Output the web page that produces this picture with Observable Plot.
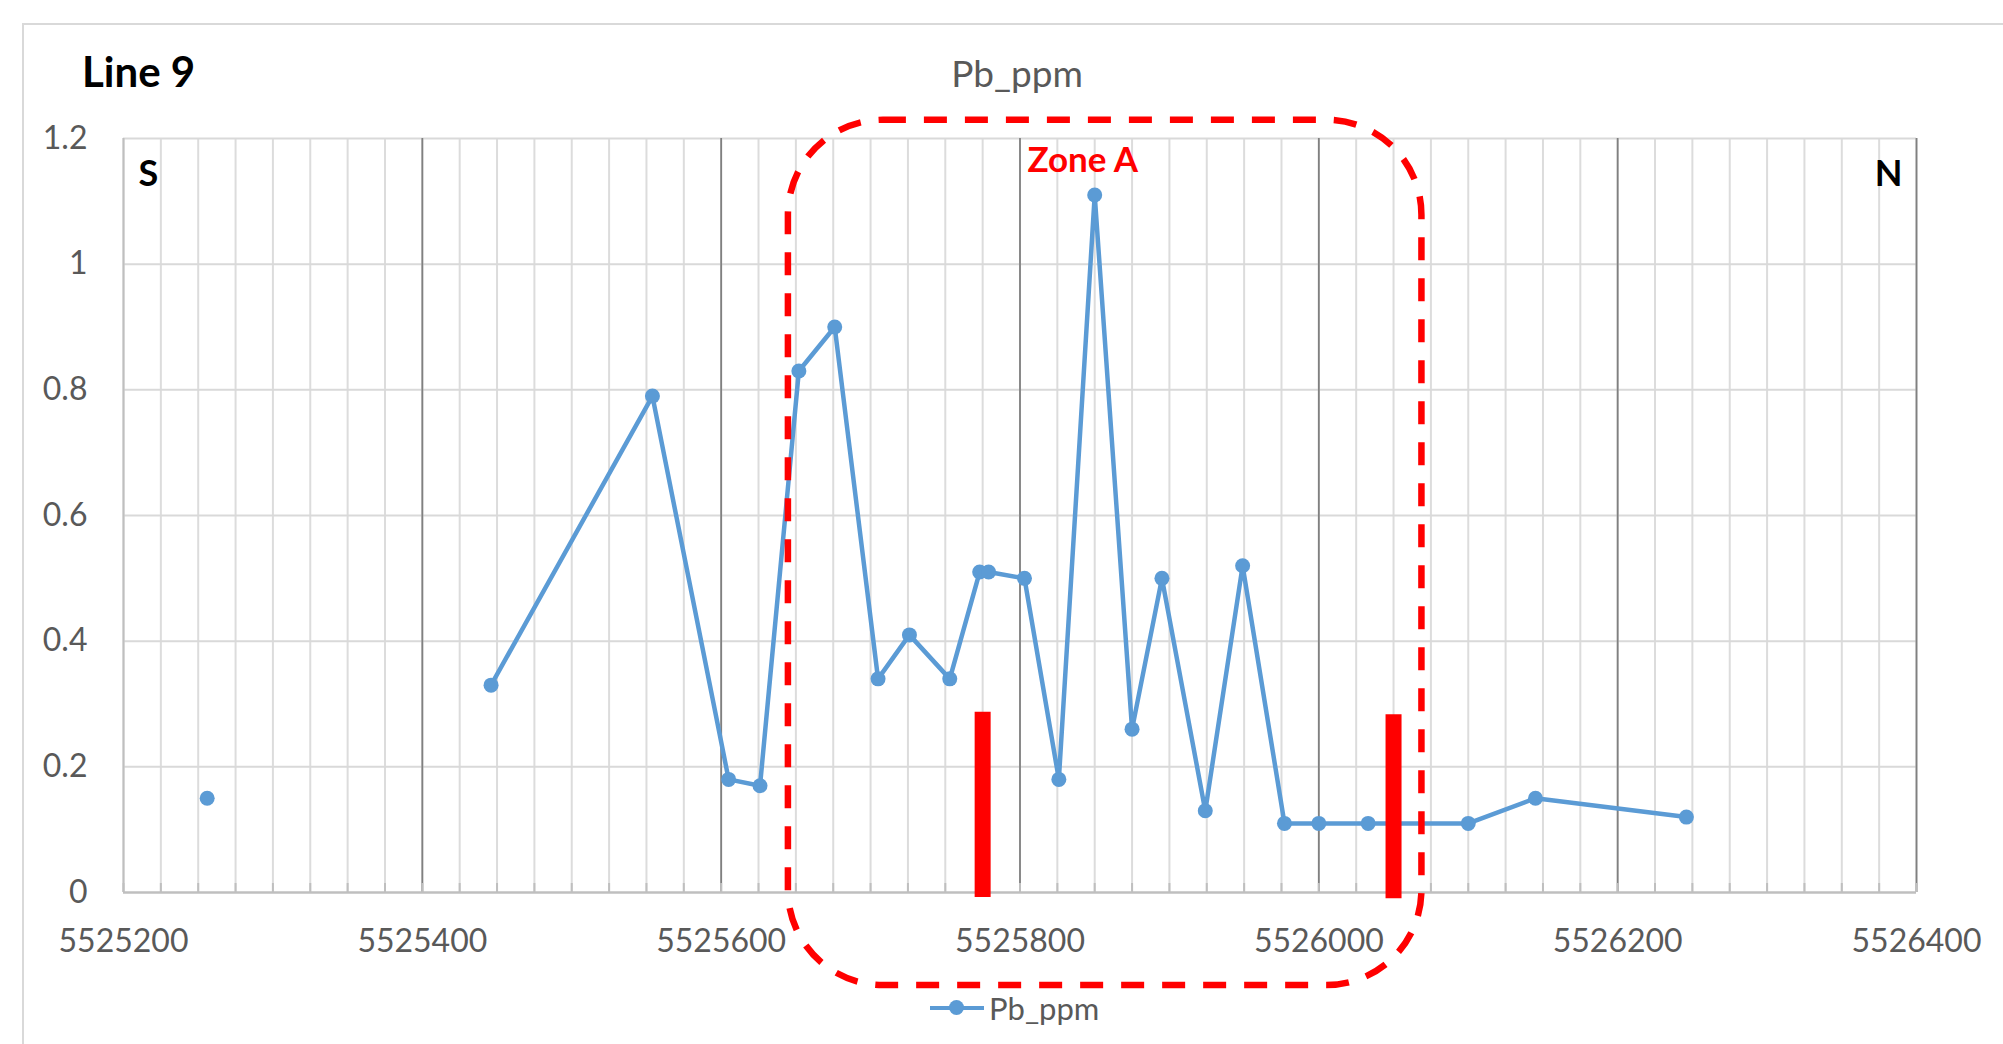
<!DOCTYPE html>
<html>
<head>
<meta charset="utf-8">
<script src="https://cdn.jsdelivr.net/npm/d3@7"></script>
<script src="https://cdn.jsdelivr.net/npm/@observablehq/plot@0.6"></script>
<style>
  html, body { margin: 0; padding: 0; background: #fff; }
  body { width: 2003px; height: 1044px; overflow: hidden; position: relative; font-family: Lato, "Open Sans", sans-serif; }
  #frame { position: absolute; left: 22px; top: 23px; width: 2100px; height: 1100px; border: 2px solid #d9d9d9; box-sizing: border-box; }
  #title { position: absolute; left: 82px; top: 50px; font-weight: bold; font-size: 42px; line-height: 1; color: #000; }
  #subtitle { position: absolute; left: 0; width: 2034px; text-align: center; top: 54px; font-size: 37px; line-height: 1; color: #595959; }
  #chart { position: absolute; left: 0; top: 100px; }
  #legend { position: absolute; left: 930px; top: 990px; height: 36px; display: flex; align-items: center; font-size: 31px; color: #595959; }
  #legend .sw { position: relative; width: 54px; height: 36px; margin-right: 5px; }
  #legend .sw .ln { position: absolute; left: 0; right: 0; top: 16px; height: 4px; background: #5b9bd5; }
  #legend .sw .dt { position: absolute; left: 19px; top: 10px; width: 15px; height: 15px; border-radius: 50%; background: #5b9bd5; }
</style>
</head>
<body>
<div id="frame"></div>
<div id="title">Line 9</div>
<div id="subtitle">Pb_ppm</div>
<div id="chart"></div>
<div id="legend"><div class="sw"><div class="ln"></div><div class="dt"></div></div><span id="legendLabel"></span></div>
<script>
// ---- data ----
const seriesName = "Pb_ppm";
const easting = [5525256, 5525446, 5525554, 5525605, 5525626, 5525652, 5525676, 5525705, 5525726, 5525753,
                 5525773, 5525779, 5525803, 5525826, 5525850, 5525875, 5525895, 5525924, 5525949, 5525977,
                 5526000, 5526033, 5526100, 5526145, 5526246];
const pbPpm = [0.15, 0.33, 0.79, 0.18, 0.17, 0.83, 0.90, 0.34, 0.41, 0.34,
               0.51, 0.51, 0.50, 0.18, 1.11, 0.26, 0.50, 0.13, 0.52, 0.11,
               0.11, 0.11, 0.11, 0.15, 0.12];
const segment = [0, 1, 1, 1, 1, 1, 1, 1, 1, 1, 1, 1, 1, 1, 1, 1, 1, 1, 1, 1, 1, 1, 1, 1, 1];

const xTicks = [5525200, 5525400, 5525600, 5525800, 5526000, 5526200, 5526400];
const xTickLabels = ["5525200", "5525400", "5525600", "5525800", "5526000", "5526200", "5526400"];
const yTicks = [0, 0.2, 0.4, 0.6, 0.8, 1, 1.2];
const yTickLabels = ["0", "0.2", "0.4", "0.6", "0.8", "1", "1.2"];

// annotations
const markerX = [5525775, 5526050];
const markerTop = [0.287, 0.283];
const markerBottom = [-0.008, -0.01];
const zoneBounds = [{x1: 5525645, x2: 5526069, y1: -0.148, y2: 1.229}];
const zoneLabel = [{x: 5525842, y: 1.165, text: "Zone A"}];
const directionLabels = ["S", "N"];

// ---- build ----
const rows = easting.map((e, i) => ({x: e, y: pbPpm[i], seg: segment[i]}));
const markers = markerX.map((m, i) => ({x: m, y1: markerBottom[i], y2: markerTop[i]}));
const minorX = d3.range(xTicks[0], xTicks[xTicks.length - 1] + 1, 25);
const majorX = xTicks.slice(1);
const xLab = new Map(xTicks.map((t, i) => [t, xTickLabels[i]]));
const yLab = new Map(yTicks.map((t, i) => [t, yTickLabels[i]]));

const W = 2003, H = 890;
const mT = 38, mB = 98, mL = 123, mR = 87;
const plotH = H - mT - mB;

const chart = Plot.plot({
  width: W,
  height: H,
  marginTop: mT, marginBottom: mB, marginLeft: mL, marginRight: mR,
  style: {fontFamily: "Lato, 'Open Sans', sans-serif", fontSize: "32px", color: "#595959", background: "transparent", overflow: "visible"},
  x: {domain: [xTicks[0], xTicks[xTicks.length - 1]], ticks: xTicks, tickFormat: d => xLab.get(d), tickSize: 0, tickPadding: 37, label: null},
  y: {domain: [yTicks[0], yTicks[yTicks.length - 1]], ticks: yTicks, tickFormat: d => yLab.get(d), tickSize: 0, tickPadding: 36, label: null},
  marks: [
    Plot.ruleX(minorX, {x: d => d, stroke: "#dcdcdc", strokeWidth: 2}),
    Plot.ruleY(yTicks.slice(1), {y: d => d, stroke: "#d9d9d9", strokeWidth: 2}),
    Plot.ruleX(majorX, {x: d => d, stroke: "#808080", strokeWidth: 1.8}),
    Plot.tickX(minorX, {x: d => d, stroke: "#bfbfbf", strokeWidth: 2, insetTop: plotH - 9}),
    Plot.ruleX([xTicks[0]], {x: d => d, stroke: "#bfbfbf", strokeWidth: 2}),
    Plot.ruleY([yTicks[0]], {y: d => d, stroke: "#bfbfbf", strokeWidth: 2.5}),
    Plot.line(rows, {x: "x", y: "y", z: "seg", stroke: "#5b9bd5", strokeWidth: 4.5, strokeLinejoin: "round"}),
    Plot.dot(rows, {x: "x", y: "y", r: 7.5, fill: "#5b9bd5", stroke: null}),
    Plot.ruleX(markers, {x: "x", y1: "y1", y2: "y2", stroke: "#ff0000", strokeWidth: 16}),
    Plot.rect(zoneBounds, {x1: "x1", x2: "x2", y1: "y1", y2: "y2", rx: 95, fill: "none", stroke: "#ff0000", strokeWidth: 6.5, strokeDasharray: "23,18"}),
    Plot.text(zoneLabel, {x: "x", y: "y", text: "text", fill: "#ff0000", fontWeight: "bold", fontSize: 35}),
    Plot.text([directionLabels[0]], {text: d => d, frameAnchor: "top-left", dx: 15, dy: 22, fill: "#000", fontWeight: "bold", fontSize: 36}),
    Plot.text([directionLabels[1]], {text: d => d, frameAnchor: "top-right", dx: -14, dy: 22, fill: "#000", fontWeight: "bold", fontSize: 36})
  ]
});
document.getElementById("chart").appendChild(chart);
document.getElementById("legendLabel").textContent = seriesName;
</script>
</body>
</html>
